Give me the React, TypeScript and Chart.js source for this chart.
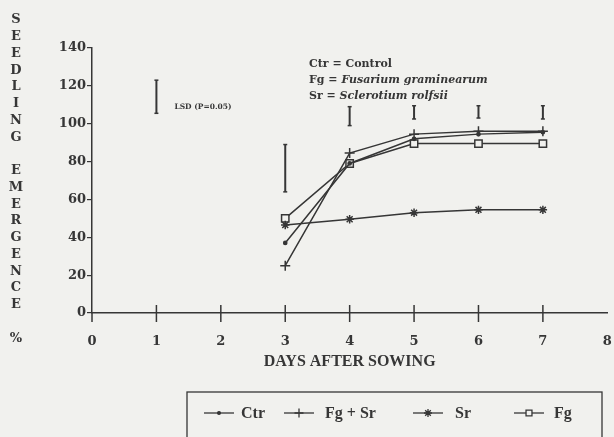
import React, { useEffect, useRef } from 'react';
import { Chart, registerables } from 'chart.js';
import { drawPoint } from 'chart.js/helpers';

Chart.register(...registerables);

// ---- data ----
const days = [3, 4, 5, 6, 7];
const ctrValues = [37, 79, 92, 94.5, 95.5];
const fgSrValues = [25, 84.5, 94.5, 96, 96];
const srValues = [46.5, 49.5, 53, 54.5, 54.5];
const fgValues = [50, 79, 89.5, 89.5, 89.5];

const seriesLabels = ['Ctr', 'Fg + Sr', 'Sr', 'Fg'];

// LSD (P=0.05) bars per day
const lsdDays = [3, 4, 5, 6, 7];
const lsdLow = [64, 99, 102.5, 103, 102.5];
const lsdHigh = [89, 109, 109.5, 109.5, 109.5];
// reference LSD bar
const refLsdDay = [1];
const refLsdLow = [105.5];
const refLsdHigh = [123];
const refLsdLabel = 'LSD (P=0.05)';

const xTitle = 'DAYS AFTER SOWING';
const yTitleWords = ['SEEDLING', 'EMERGENCE', '%'];
const notes: [string, string][] = [
  ['Ctr = ', 'Control'],
  ['Fg = ', 'Fusarium graminearum'],
  ['Sr = ', 'Sclerotium rolfsii'],
];
const noteItalic = [false, true, true];

const xMin = 0, xMax = 8, xStep = 1;
const yMin = 0, yMax = 140, yStep = 20;

export default function App() {
  const ref = useRef<HTMLCanvasElement>(null);

  useEffect(() => {
    const canvas = ref.current;
    if (!canvas) return;
    const ink = '#363636';
    const bg = '#f1f1ee';
    const serifW = '"DejaVu Serif", serif';
    const serifT = '"Liberation Serif", serif';

    const styles = [
      { pointStyle: 'circle', radius: 1.6, fill: ink, lr: 1.4 },
      { pointStyle: 'cross', radius: 5, fill: ink, lr: 4.5 },
      { pointStyle: 'star', radius: 4.2, fill: ink, lr: 4 },
      { pointStyle: 'rect', radius: 5.2, fill: bg, lr: 4.2 },
    ];
    const seriesValues = [ctrValues, fgSrValues, srValues, fgValues];

    const datasets = seriesValues.map((vals, i) => ({
      label: seriesLabels[i],
      data: days.map((d, j) => ({ x: d, y: vals[j] })),
      borderColor: ink,
      borderWidth: 1.5,
      pointStyle: styles[i].pointStyle as any,
      pointRadius: styles[i].radius,
      pointBorderColor: ink,
      pointBorderWidth: 1.5,
      pointBackgroundColor: styles[i].fill,
      tension: 0,
      fill: false,
    }));

    const bgPlugin = {
      id: 'bgfill',
      beforeDraw(chart: any) {
        const c = chart.ctx;
        c.save();
        c.fillStyle = bg;
        c.fillRect(0, 0, chart.width, chart.height);
        c.restore();
      },
    };

    const extras = {
      id: 'extras',
      afterDraw(chart: any) {
        const { ctx } = chart;
        const x = chart.scales.x;
        const y = chart.scales.y;
        const line = (x1: number, y1: number, x2: number, y2: number) => {
          ctx.beginPath();
          ctx.moveTo(x1, y1);
          ctx.lineTo(x2, y2);
          ctx.stroke();
        };
        ctx.save();
        ctx.strokeStyle = ink;
        ctx.fillStyle = ink;

        // crossing x ticks
        const y0 = y.getPixelForValue(0);
        ctx.lineWidth = 1.5;
        for (let d = xMin + 1; d < xMax; d++) {
          const px = x.getPixelForValue(d);
          line(px, y0 - 8, px, y0 + 9);
        }
        line(x.left, y0, x.left, y0 + 9);

        // LSD bars
        const bar = (d: number, lo: number, hi: number) => {
          const px = x.getPixelForValue(d);
          const t = y.getPixelForValue(hi);
          const b = y.getPixelForValue(lo);
          ctx.lineWidth = 2;
          line(px, t, px, b);
          ctx.lineWidth = 1.5;
          line(px - 2, t, px + 2, t);
          line(px - 2, b, px + 2, b);
        };
        lsdDays.forEach((d, i) => bar(d, lsdLow[i], lsdHigh[i]));
        refLsdDay.forEach((d, i) => bar(d, refLsdLow[i], refLsdHigh[i]));

        // LSD label
        ctx.font = `bold 7.5px ${serifW}`;
        ctx.textBaseline = 'middle';
        ctx.textAlign = 'left';
        ctx.fillText(refLsdLabel, x.getPixelForValue(refLsdDay[0]) + 18, y.getPixelForValue(109));

        // notes
        notes.forEach(([a, b], i) => {
          const ny = 64 + i * 16;
          ctx.font = `bold 11px ${serifW}`;
          ctx.fillText(a, 309, ny);
          const w = ctx.measureText(a).width;
          ctx.font = `${noteItalic[i] ? 'italic ' : ''}bold 11px ${serifW}`;
          ctx.fillText(b, 309 + w, ny);
        });

        // vertical y title
        const chars: string[] = [];
        yTitleWords.forEach((w, i) => {
          if (i > 0) chars.push(' ');
          for (const ch of w) chars.push(ch);
        });
        ctx.font = `bold 13px ${serifW}`;
        ctx.textAlign = 'center';
        chars.forEach((ch, i) => {
          if (ch !== ' ') ctx.fillText(ch, 16, 20 + i * 16.75);
        });

        // legend box
        ctx.lineWidth = 1.3;
        ctx.strokeRect(187, 392, 415, 60);
        const itemLineX = [204, 284, 413, 514];
        const itemTextX = [241, 325, 455, 554];
        const ly = 413;
        ctx.font = `bold 16px ${serifT}`;
        ctx.textAlign = 'left';
        chart.data.datasets.forEach((ds: any, i: number) => {
          ctx.lineWidth = 1.3;
          ctx.strokeStyle = ink;
          line(itemLineX[i], ly, itemLineX[i] + 30, ly);
          ctx.fillStyle = styles[i].fill;
          drawPoint(ctx, {
            pointStyle: styles[i].pointStyle,
            radius: styles[i].lr,
            borderWidth: 1.3,
            rotation: 0,
          } as any, itemLineX[i] + 15, ly);
          ctx.fillStyle = ink;
          ctx.fillText(ds.label, itemTextX[i], ly + 1);
        });
        ctx.restore();
      },
    };

    const tickFont = { family: serifW, weight: 'bold' as const, size: 13 };

    const chart = new Chart(canvas, {
      type: 'line',
      data: { datasets: datasets as any },
      options: {
        animation: false,
        responsive: false,
        layout: { padding: { left: 0, right: 4, top: 48, bottom: 66 } },
        plugins: { legend: { display: false }, tooltip: { enabled: false } },
        scales: {
          x: {
            type: 'linear',
            min: xMin,
            max: xMax,
            ticks: { stepSize: xStep, padding: 1, color: ink, font: tickFont },
            grid: { drawOnChartArea: false, drawTicks: true, tickLength: 20, tickColor: 'rgba(0,0,0,0)' },
            border: { color: ink, width: 1.5 },
            title: {
              display: true,
              text: xTitle,
              color: ink,
              font: { family: serifT, weight: 'bold', size: 16 },
              padding: { top: 0, bottom: 0 },
            },
            afterFit(s: any) { s.height = 58; },
          },
          y: {
            type: 'linear',
            min: yMin,
            max: yMax,
            ticks: { stepSize: yStep, padding: 1, color: ink, font: tickFont },
            grid: { drawOnChartArea: false, drawTicks: true, tickLength: 5, color: ink, lineWidth: 1.2 },
            border: { color: ink, width: 1.5 },
            afterFit(s: any) { s.width = 92; },
          },
        },
      },
      plugins: [bgPlugin, extras],
    });
    return () => chart.destroy();
  }, []);

  return (
    <div style={{ position: 'fixed', left: 0, top: 0, width: 614, height: 437 }}>
      <canvas ref={ref} width={614} height={437} style={{ width: 614, height: 437, display: 'block' }} />
    </div>
  );
}
